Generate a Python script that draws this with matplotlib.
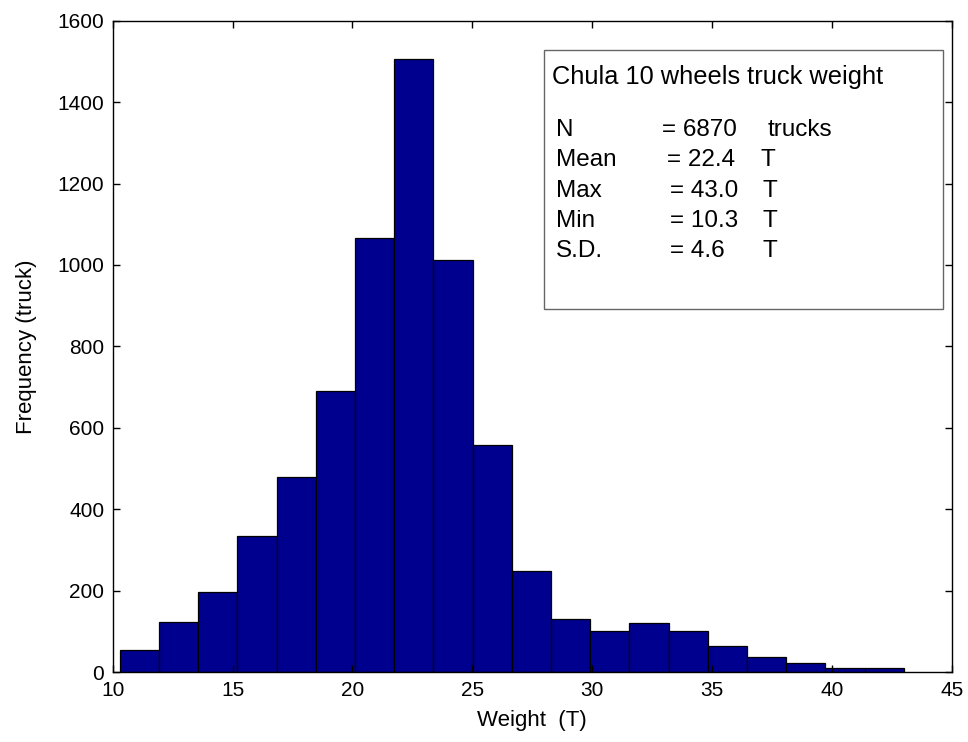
import numpy as np
import matplotlib
matplotlib.use("Agg")
import matplotlib.pyplot as plt
from matplotlib.patches import Rectangle

plt.rcParams['font.family'] = ['Liberation Sans', 'DejaVu Sans']

# Histogram of truck weights: 20 equal bins from min to max weight
w_min, w_max, n_bins = 10.3, 43.0, 20
counts = [55, 122, 197, 333, 480, 690, 1065, 1505, 1013, 557,
          248, 130, 102, 120, 102, 64, 36, 22, 10, 10]

x_ticks = [10, 15, 20, 25, 30, 35, 40, 45]
y_ticks = [0, 200, 400, 600, 800, 1000, 1200, 1400, 1600]

stat_names = ["N", "Mean", "Max", "Min", "S.D."]
stat_values = ["= 6870", "= 22.4", "= 43.0", "= 10.3", "= 4.6"]
stat_units = ["trucks", "T", "T", "T", "T"]

edges = np.linspace(w_min, w_max, n_bins + 1)

fig = plt.figure(figsize=(9.68, 7.42), dpi=100)
ax = fig.add_axes([0.1164, 0.0943, 0.8667, 0.8778])

ax.bar(edges[:-1], counts, width=np.diff(edges), align='edge',
       color='#00008F', edgecolor='black', linewidth=0.9)

ax.set_xlim(10, 45)
ax.set_ylim(0, 1600)
ax.set_xticks(x_ticks)
ax.set_yticks(y_ticks)
ax.tick_params(direction='in', length=5, width=1, top=True, right=True,
               labelsize=15)
ax.tick_params(axis='x', pad=6.5)
ax.tick_params(axis='y', pad=6)
for s in ax.spines.values():
    s.set_linewidth(1.0)

ax.set_xlabel("Weight  (T)", fontsize=16, labelpad=7)
ax.set_ylabel("Frequency (truck)", fontsize=16, labelpad=15)

# Summary box
ax.add_patch(Rectangle((28.0, 892), 44.64 - 28.0, 1528 - 892,
                       transform=ax.transData, fill=True, facecolor='white',
                       edgecolor='#666666', linewidth=1.0, zorder=3))

fs = 17.5
ax.text(0.524, 0.914, "Chula 10 wheels truck weight", transform=ax.transAxes,
        fontsize=18.3, va='center', ha='left', zorder=4)

row_y = [0.832, 0.786, 0.738, 0.692, 0.646]
val_x = [0.655, 0.661, 0.664, 0.664, 0.664]
unit_x = [0.781, 0.772, 0.775, 0.775, 0.775]
for name, val, unit, y, vx, ux in zip(stat_names, stat_values, stat_units,
                                      row_y, val_x, unit_x):
    ax.text(0.528, y, name, transform=ax.transAxes, fontsize=fs,
            va='center', ha='left', zorder=4)
    ax.text(vx, y, val, transform=ax.transAxes, fontsize=fs,
            va='center', ha='left', zorder=4)
    ax.text(ux, y, unit, transform=ax.transAxes, fontsize=fs,
            va='center', ha='left', zorder=4)

fig.savefig("out.png", dpi=100, facecolor='white')
